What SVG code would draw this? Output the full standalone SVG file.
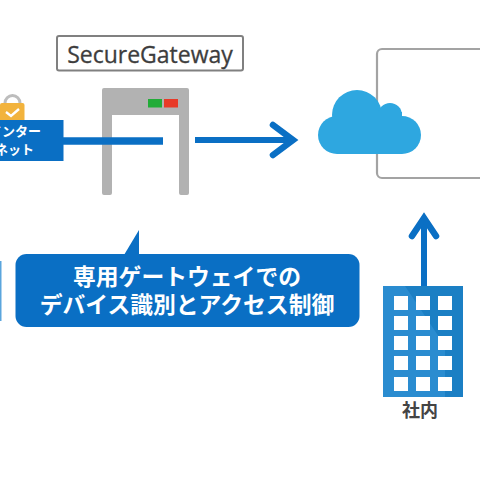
<svg xmlns="http://www.w3.org/2000/svg" width="480" height="480" viewBox="0 0 480 480">
<style>
.ln{fill:none;stroke:#0a6fc4;stroke-width:6.500;stroke-linejoin:miter;stroke-linecap:round}
.w{fill:#fff}
.j{font-family:"Noto Sans CJK JP","Liberation Sans",sans-serif}
</style>
<rect width="480" height="480" fill="#fff"/>
<g id="panel">
<path d="M480 49H382a5 5 0 0 0-5 5V173a5 5 0 0 0 5 5h98" fill="none" stroke="#a3a3a3" stroke-width="2.200"/>
</g>
<g id="cloud" fill="#2ea7e0">
<circle cx="357" cy="115" r="25"/>
<circle cx="390" cy="115" r="12"/>
<circle cx="402" cy="135" r="19"/>
<circle cx="337" cy="135" r="19"/>
<rect x="337" y="112" width="65" height="42"/>
</g>
<g id="internet">
<path d="M5 106v-3a7.500 7.500 0 0 1 15 0v3" fill="none" stroke="#bdbdbd" stroke-width="3"/>
<rect x="0" y="103" width="24.500" height="20" rx="2" fill="#f2b33d"/>
<path d="M6 112l5 4 8-7" fill="none" stroke="#fff" stroke-width="2.400"/>
<rect x="-10" y="120" width="73.500" height="41" fill="#0a6fc4"/>
<text class="j" x="-11" y="136" font-size="13" font-weight="700" fill="#fff">インター</text>
<text class="j" x="-5" y="154" font-size="13" font-weight="700" fill="#fff">ネット</text>
</g>
<g id="secure-gateway">
<rect x="57" y="36" width="186" height="34.500" rx="2" fill="#fff" stroke="#808080" stroke-width="2"/>
<text x="150" y="63" font-size="23" text-anchor="middle" fill="#3d3d3d" stroke="#3d3d3d" stroke-width=".3" font-family="'Open Sans','Noto Sans',sans-serif">SecureGateway</text>
</g>
<g id="gate">
<path d="M102 90a2 2 0 0 1 2-2h83a2 2 0 0 1 2 2v103a2 2 0 0 1-2 2h-6a2 2 0 0 1-2-2V115h-67v78a2 2 0 0 1-2 2h-6a2 2 0 0 1-2-2z" fill="#b2b2b2"/>
<rect x="148" y="99" width="14" height="8.500" fill="#22ac38"/>
<rect x="164" y="99" width="14" height="8.500" fill="#e83a28"/>
</g>
<g id="connectors">
<path d="M63 141H163" fill="none" stroke="#0a6fc4" stroke-width="7.500"/>
<path d="M195 140H292" fill="none" stroke="#0a6fc4" stroke-width="6"/>
<path class="ln" d="M273 125l20 15-20 15"/>
<path d="M424 287V218" fill="none" stroke="#0a6fc4" stroke-width="6"/>
<path class="ln" d="M412 236l12-18 12 18"/>
</g>
<g id="callout">
<path d="M124 255l15-25v25z" fill="#0a6fc4"/>
<rect x="15.500" y="254" width="344" height="73" rx="11" fill="#0a6fc4"/>
<text class="j" font-size="22.800" font-weight="700" fill="#fff" text-anchor="middle"><tspan x="187" y="285">専用ゲートウェイでの</tspan><tspan x="187" y="313">デバイス識別とアクセス制御</tspan></text>
</g>
<g id="building">
<rect x="383" y="286" width="80" height="111" fill="#1b7fc4"/>
<path d="M383 286h22l40 60v51h-62z" fill="#2a8cd0"/>
<g class="w">
<rect x="394" y="296" width="14" height="14"/><rect x="416" y="296" width="14" height="14"/><rect x="438" y="296" width="14" height="14"/>
<rect x="394" y="316" width="14" height="14"/><rect x="416" y="316" width="14" height="14"/><rect x="438" y="316" width="14" height="14"/>
<rect x="394" y="336" width="14" height="14"/><rect x="416" y="336" width="14" height="14"/><rect x="438" y="336" width="14" height="14"/>
<rect x="394" y="356" width="14" height="14"/><rect x="416" y="356" width="14" height="14"/><rect x="438" y="356" width="14" height="14"/>
<rect x="394" y="377" width="14" height="14"/><rect x="416" y="377" width="14" height="14"/><rect x="438" y="377" width="14" height="14"/>
</g>
<text class="j" x="420" y="417" font-size="18" font-weight="700" fill="#444" text-anchor="middle">社内</text>
</g>
<g id="left-edge">
<rect x="0" y="261" width="1.500" height="60" fill="#5aa5dd"/>
</g>
</svg>
